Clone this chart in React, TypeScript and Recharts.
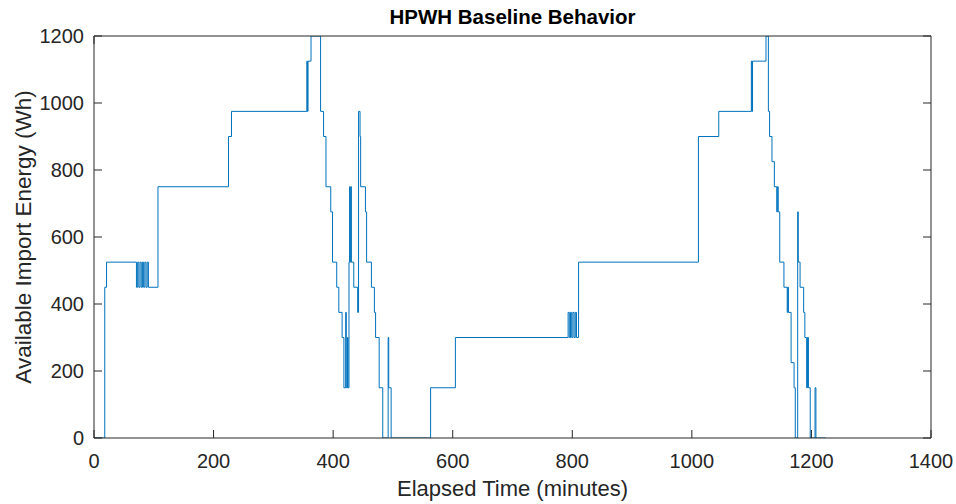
import React from "react";
import { Line, LineChart, XAxis, YAxis } from "recharts";

// step points: elapsed minutes -> available import energy (Wh), held until the next point
const elapsedMin = [
  0, 18, 21, 71, 73, 75, 77, 79, 81, 83, 85, 87, 89, 91, 107, 225, 230,
  356, 357, 358, 363, 379, 384, 388, 396, 399, 406, 409.5, 415, 418, 421,
  422, 424, 425, 426.5, 427.5, 428.5, 429.5, 430.5, 434.5, 441, 442.5, 445,
  446, 454, 456, 464, 469, 471, 477, 483, 492, 493, 497, 563, 604.5, 793,
  795, 797, 799, 801, 803, 805, 807, 810.5, 1011, 1045, 1099.5, 1100.5,
  1101.5, 1124, 1128, 1130, 1134, 1138, 1142, 1143, 1144.5, 1147, 1154,
  1159.5, 1160.5, 1161.5, 1166, 1171, 1173, 1177, 1178, 1181, 1187, 1189,
  1192, 1193.5, 1195, 1198, 1206, 1207.5, 1224,
];
const importWh = [
  0, 450, 525, 450, 525, 450, 525, 450, 525, 450, 525, 450, 525, 450, 750, 900, 975,
  1125, 975, 1125, 1200, 975, 900, 750, 675, 525, 450, 375, 300, 150, 375,
  150, 300, 150, 525, 750, 525, 750, 525, 450, 375, 975, 900,
  750, 675, 525, 450, 375, 300, 150, 0, 300, 150, 0, 150, 300, 375,
  300, 375, 300, 375, 300, 375, 300, 525, 900, 975, 1125, 975,
  1125, 1200, 975, 900, 825, 750, 675, 750, 675, 525, 450,
  375, 450, 375, 225, 150, 0, 675, 525, 450, 375, 300,
  150, 300, 150, 0, 150, 0, 0,
];

const xTicks = [0, 200, 400, 600, 800, 1000, 1200, 1400];
const yTicks = [0, 200, 400, 600, 800, 1000, 1200];

const rows = elapsedMin.map((t, i) => ({ t, wh: importWh[i] }));

const INK = "#262626";
const FONT = "'Liberation Sans', Arial, Helvetica, sans-serif";
const TICK_LEN = 8;

// MATLAB style ticks: marks point inward, labels sit outside the box
const BottomTick = ({ x, y, payload }: any) => (
  <g>
    <line x1={x} y1={y} x2={x} y2={y - TICK_LEN} stroke={INK} />
    <text x={x} y={y + 30} textAnchor="middle" fill={INK} fontSize={20} fontFamily={FONT}>
      {payload.value}
    </text>
  </g>
);

const LeftTick = ({ x, y, payload }: any) => (
  <g>
    <line x1={x} y1={y} x2={x + TICK_LEN} y2={y} stroke={INK} />
    <text x={x - 10} y={y + 7} textAnchor="end" fill={INK} fontSize={20} fontFamily={FONT}>
      {payload.value}
    </text>
  </g>
);

const TopTick = ({ x, y }: any) => <line x1={x} y1={y} x2={x} y2={y + TICK_LEN} stroke={INK} />;
const RightTick = ({ x, y }: any) => <line x1={x} y1={y} x2={x - TICK_LEN} y2={y} stroke={INK} />;

export default function App() {
  return (
    <div style={{ position: "relative", width: 956, height: 504, background: "#fff" }}>
      <style>{`body{margin:0}`}</style>
      <div
        style={{
          position: "absolute",
          left: 94,
          width: 837,
          top: 5,
          textAlign: "center",
          fontFamily: FONT,
          fontWeight: "bold",
          fontSize: 20.5,
          color: "#000",
        }}
      >
        HPWH Baseline Behavior
      </div>
      <LineChart width={956} height={504} data={rows} margin={{ top: 6, right: 0, bottom: 36, left: 34 }}>
        <XAxis
          xAxisId="b"
          dataKey="t"
          type="number"
          domain={[0, 1400]}
          ticks={xTicks}
          interval={0}
          allowDataOverflow
          height={30}
          tickSize={0}
          tickMargin={0}
          tickLine={false}
          tick={<BottomTick />}
          axisLine={{ stroke: INK }}
          label={{
            content: ({ viewBox }: any) => (
              <text
                x={viewBox.x + viewBox.width / 2}
                y={viewBox.y + 58}
                textAnchor="middle"
                fill={INK}
                fontSize={22}
                fontFamily={FONT}
              >
                Elapsed Time (minutes)
              </text>
            ),
          }}
        />
        <XAxis
          xAxisId="top"
          orientation="top"
          type="number"
          domain={[0, 1400]}
          ticks={xTicks}
          interval={0}
          allowDataOverflow
          height={30}
          tickSize={0}
          tickMargin={0}
          tickLine={false}
          tick={<TopTick />}
          axisLine={{ stroke: INK }}
        />
        <YAxis
          yAxisId="l"
          type="number"
          domain={[0, 1200]}
          ticks={yTicks}
          interval={0}
          allowDataOverflow
          width={60}
          tickSize={0}
          tickMargin={0}
          tickLine={false}
          tick={<LeftTick />}
          axisLine={{ stroke: INK }}
          label={{
            content: ({ viewBox }: any) => {
              const cx = 31;
              const cy = viewBox.y + viewBox.height / 2;
              return (
                <text
                  x={cx}
                  y={cy}
                  transform={`rotate(-90 ${cx} ${cy})`}
                  textAnchor="middle"
                  fill={INK}
                  fontSize={22.5}
                  fontFamily={FONT}
                >
                  Available Import Energy (Wh)
                </text>
              );
            },
          }}
        />
        <YAxis
          yAxisId="r"
          orientation="right"
          type="number"
          domain={[0, 1200]}
          ticks={yTicks}
          interval={0}
          allowDataOverflow
          width={25}
          tickSize={0}
          tickMargin={0}
          tickLine={false}
          tick={<RightTick />}
          axisLine={{ stroke: INK }}
        />
        <Line
          xAxisId="b"
          yAxisId="l"
          type="stepAfter"
          dataKey="wh"
          stroke="#0072BD"
          strokeWidth={1}
          dot={false}
          isAnimationActive={false}
        />
      </LineChart>
    </div>
  );
}
